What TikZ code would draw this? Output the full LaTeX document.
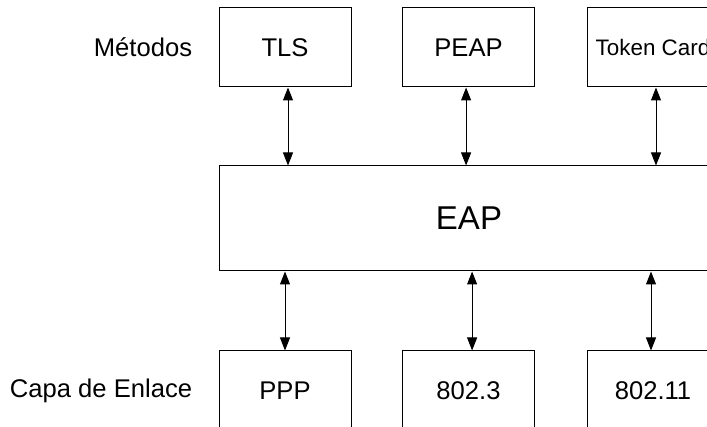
\documentclass[tikz,border=0pt]{standalone}
\usepackage{fontspec}
\setmainfont{Liberation Sans}
\usetikzlibrary{positioning,arrows.meta}

\tikzset{
  caja/.style={draw,rectangle,line width=0.5pt,minimum width=66pt,minimum height=39.5pt,inner sep=0pt,font=\fontsize{12.8}{15}\selectfont},
  etiqueta/.style={font=\fontsize{12.8}{15}\selectfont,inner sep=0pt},
  flecha/.style={{Triangle[length=6.5pt,width=5pt]}-{Triangle[length=6.5pt,width=5pt]},line width=0.5pt},
}

\begin{document}
\begin{tikzpicture}[x=0.5pt,y=-0.5pt]
\clip (0,0) rectangle (707,427);

% metodos
\node[caja] (tls) at (285,47.5) {TLS};
\node[caja] (peap) at (468.5,47.5) {PEAP};
\node[caja,font=\fontsize{11.2}{13}\selectfont] (token) at (653,47.5) {Token Card};

% EAP
\node[caja,minimum width=250pt,minimum height=52.5pt,font=\fontsize{16.5}{20}\selectfont] (eap) at (469,218.5) {EAP};

% capa de enlace
\node[caja] (ppp) at (285,390.5) {PPP};
\node[caja] (ethernet) at (468.5,390.5) {802.3};
\node[caja] (wifi) at (653,390.5) {802.11};

% etiquetas
\node[etiqueta,left=13pt of tls] (metodos) {Métodos};
\node[etiqueta,left=13pt of ppp] (enlace) {Capa de Enlace};

% flechas
\draw[flecha] ([xshift=1.5pt]tls.south) -- ([xshift=1.5pt]tls.south |- eap.north);
\draw[flecha] ([xshift=-1.2pt]peap.south) -- ([xshift=-1.2pt]peap.south |- eap.north);
\draw[flecha] ([xshift=1.5pt]token.south) -- ([xshift=1.5pt]token.south |- eap.north);
\draw[flecha] (eap.south -| ppp.north) -- (ppp.north);
\draw[flecha] ([xshift=1.8pt]eap.south -| ethernet.north) -- ([xshift=1.8pt]ethernet.north);
\draw[flecha] ([xshift=-1pt]eap.south -| wifi.north) -- ([xshift=-1pt]wifi.north);
\end{tikzpicture}
\end{document}
